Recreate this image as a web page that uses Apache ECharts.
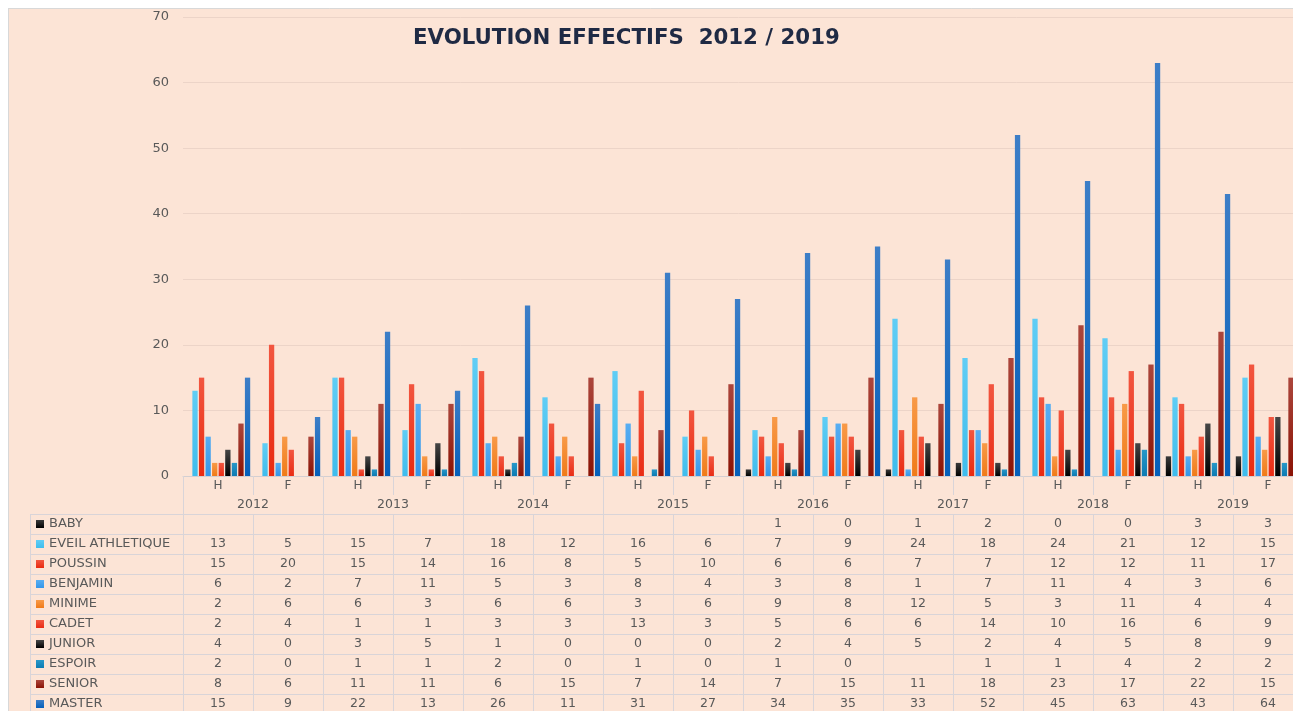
<!DOCTYPE html>
<html><head><meta charset="utf-8">
<script src="https://cdn.jsdelivr.net/npm/echarts@6/dist/echarts.min.js"></script>
<style>html,body{margin:0;padding:0;background:#fff;}#c{width:1293px;height:711px;}</style>
</head><body><div id="c"></div>
<script>
// ---------- DATA ----------
const years = ['2012','2013','2014','2015','2016','2017','2018','2019'];
const categories = ['H','F','H','F','H','F','H','F','H','F','H','F','H','F','H','F'];
const yTicks = [0,10,20,30,40,50,60,70];
const seriesNames = ['BABY','EVEIL ATHLETIQUE','POUSSIN','BENJAMIN','MINIME','CADET','JUNIOR','ESPOIR','SENIOR','MASTER'];
const baby     = [null,null,null,null,null,null,null,null,1,0,1,2,0,0,3,3];
const eveil    = [13,5,15,7,18,12,16,6,7,9,24,18,24,21,12,15];
const poussin  = [15,20,15,14,16,8,5,10,6,6,7,7,12,12,11,17];
const benjamin = [6,2,7,11,5,3,8,4,3,8,1,7,11,4,3,6];
const minime   = [2,6,6,3,6,6,3,6,9,8,12,5,3,11,4,4];
const cadet    = [2,4,1,1,3,3,13,3,5,6,6,14,10,16,6,9];
const junior   = [4,0,3,5,1,0,0,0,2,4,5,2,4,5,8,9];
const espoir   = [2,0,1,1,2,0,1,0,1,0,null,1,1,4,2,2];
const senior   = [8,6,11,11,6,15,7,14,7,15,11,18,23,17,22,15];
const master   = [15,9,22,13,26,11,31,27,34,35,33,52,45,63,43,64];
const seriesValues = [baby,eveil,poussin,benjamin,minime,cadet,junior,espoir,senior,master];

// ---------- STYLE ----------
const colorStops = [
  ['#3a3a3a','#000000'],
  ['#60cdf5','#3fbcec'],
  ['#f25640','#e92a10'],
  ['#58aef2','#3596e8'],
  ['#f89a48','#f07a18'],
  ['#f25640','#e92c14'],
  ['#464646','#000000'],
  ['#2898c9','#0d7bb2'],
  ['#ac463c','#8a1204'],
  ['#3d7ec7','#055fba']
];
const FONT = 'DejaVu Sans';
const TXT = '#595959';
const LINE = '#d9d4d8';
const GRID_LEFT = 183, GRID_TOP = 17, GRID_BOTTOM = 235;
const HF_H = 19, YEAR_H = 19, ROW_H = 20;
const AXIS_Y = 711 - GRID_BOTTOM;
const TABLE_TOP = AXIS_Y + HF_H + YEAR_H;
const LEG_LEFT = 30;

function grad(c){return {type:'linear',x:0,y:0,x2:0,y2:1,colorStops:[{offset:0,color:c[0]},{offset:1,color:c[1]}]};}

const xAxes = [
  { type:'category', data:categories, position:'bottom', offset:0,
    axisLine:{show:true,lineStyle:{color:'#d3cfd2'}},
    axisTick:{show:true,length:HF_H,interval:0,lineStyle:{color:LINE}},
    axisLabel:{interval:0,margin:0,lineHeight:HF_H,fontSize:12,color:TXT,fontFamily:FONT},
    splitLine:{show:false} },
  { type:'category', data:years, position:'bottom', offset:HF_H,
    axisLine:{show:false},
    axisTick:{show:true,length:YEAR_H,interval:0,lineStyle:{color:LINE}},
    axisLabel:{interval:0,margin:0,lineHeight:YEAR_H,fontSize:12.5,color:TXT,fontFamily:FONT},
    splitLine:{show:false} }
];
seriesValues.forEach((vals,k)=>{
  xAxes.push({ type:'category', data:categories, position:'bottom', offset:HF_H+YEAR_H+k*ROW_H,
    axisLine:{show:true,lineStyle:{color:LINE}},
    axisTick:{show:true,length:ROW_H,interval:0,lineStyle:{color:LINE}},
    axisLabel:{interval:0,margin:0,lineHeight:ROW_H,fontSize:12.5,color:TXT,fontFamily:FONT,
      formatter:(v,i)=> vals[i]==null ? '' : String(vals[i])},
    splitLine:{show:false} });
});

const series = seriesNames.map((name,k)=>({
  name, type:'bar', xAxisIndex:0, yAxisIndex:0, data:seriesValues[k],
  barGap:'24%', barCategoryGap:'8%',
  itemStyle:{color:grad(colorStops[k])},
  emphasis:{disabled:true}
}));

const graphics = [
  {type:'rect', z:100, shape:{x:0,y:0,width:1293,height:8}, style:{fill:'#ffffff'}},
  {type:'rect', z:100, shape:{x:0,y:0,width:8,height:711}, style:{fill:'#ffffff'}},
  {type:'line', z:100, shape:{x1:8,y1:8.5,x2:1293,y2:8.5}, style:{stroke:'#d8d8d8',lineWidth:1}},
  {type:'line', z:100, shape:{x1:8.5,y1:8,x2:8.5,y2:711}, style:{stroke:'#d8d8d8',lineWidth:1}},
  {type:'line', z:5, shape:{x1:LEG_LEFT+0.5,y1:TABLE_TOP,x2:LEG_LEFT+0.5,y2:711}, style:{stroke:LINE,lineWidth:1}}
];
seriesNames.forEach((n,k)=>{
  const y = TABLE_TOP + k*ROW_H + 0.5;
  graphics.push({type:'line', z:5, shape:{x1:LEG_LEFT,y1:y,x2:GRID_LEFT,y2:y}, style:{stroke:LINE,lineWidth:1}});
});

const option = {
  backgroundColor:'#fce4d6',
  animation:false,
  title:{text:'EVOLUTION EFFECTIFS  2012 / 2019', left:408, top:23,
    textStyle:{fontFamily:FONT,fontWeight:'bold',fontSize:21.3,color:'#1f2a44'}},
  legend:{orient:'vertical', left:LEG_LEFT+6, top:TABLE_TOP, height:260, padding:0, itemGap:0,
    itemWidth:8, itemHeight:8, icon:'rect', data:seriesNames,
    textStyle:{fontFamily:FONT,fontSize:13,color:TXT,lineHeight:ROW_H}},
  grid:{left:GRID_LEFT, right:-10, top:GRID_TOP, bottom:GRID_BOTTOM, outerBoundsMode:'none', containLabel:false},
  xAxis:xAxes,
  yAxis:{type:'value', min:yTicks[0], max:yTicks[yTicks.length-1], interval:10,
    axisLine:{show:false}, axisTick:{show:false},
    axisLabel:{margin:14,fontSize:13,color:TXT,fontFamily:FONT},
    splitLine:{lineStyle:{color:'#ecd4c8'}}},
  series,
  graphic:graphics
};
const chart = echarts.init(document.getElementById('c'));
chart.setOption(option);
</script></body></html>
